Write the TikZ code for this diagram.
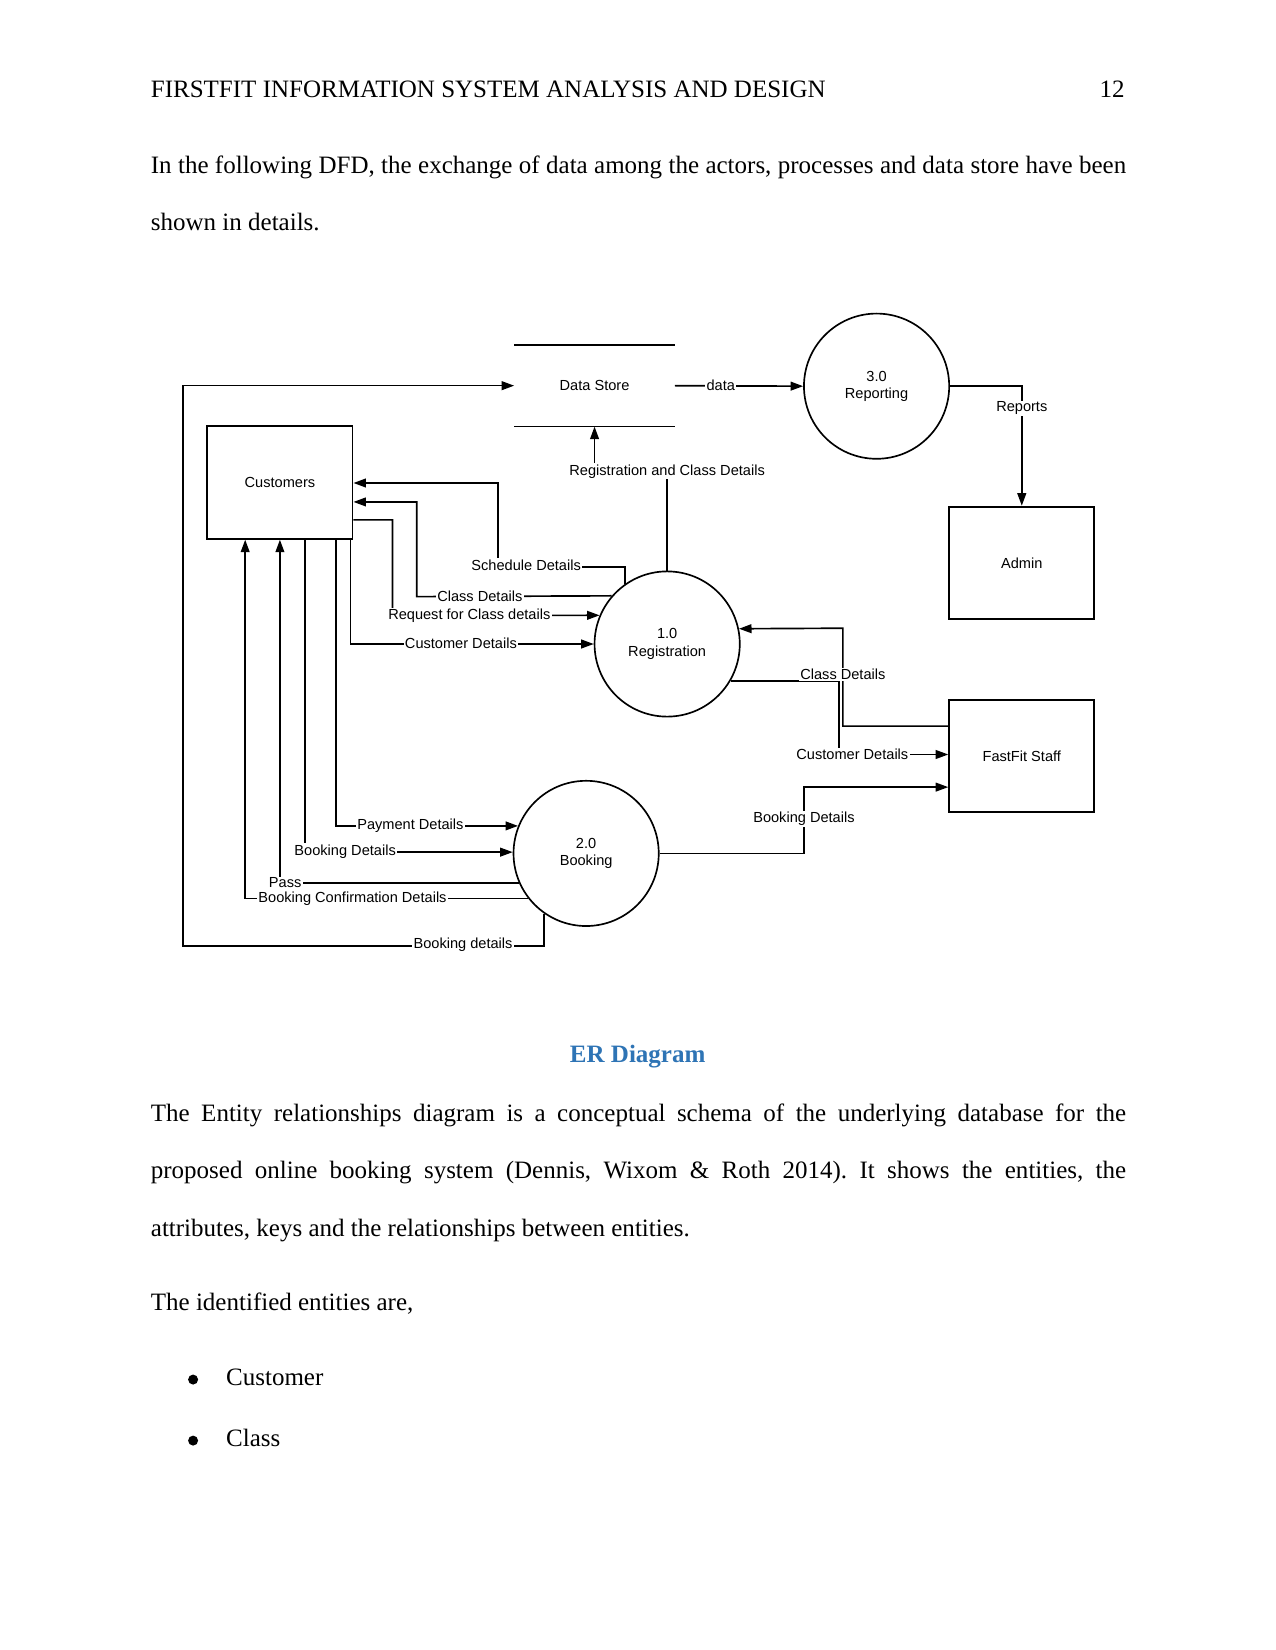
\documentclass[tikz,border=0pt]{standalone}
\usepackage{fontspec}
\setmainfont{Liberation Serif}
\newfontfamily\diagfont{Liberation Sans}
\usetikzlibrary{arrows.meta}
\definecolor{headblue}{RGB}{46,116,181}
\def\px{0.50495pt}
\frenchspacing
\tikzset{
  body/.style={font=\fontsize{12}{14}\selectfont, inner sep=0pt},
  bulletdot/.style={circle, fill=black, inner sep=0pt, minimum size=9.5*\px},
  entity/.style={draw, line width=0.9pt, rectangle, minimum width=138*\px, minimum height=107*\px, inner sep=0pt, font=\diagfont\fontsize{7}{8.4}\selectfont},
  process/.style={draw, line width=0.8pt, circle, minimum size=138*\px, inner sep=0pt, align=center, font=\diagfont\fontsize{7}{8.4}\selectfont},
  store/.style={rectangle, minimum width=152*\px, minimum height=77*\px, inner sep=0pt, font=\diagfont\fontsize{7}{8.4}\selectfont},
  flowlbl/.style={fill=white, inner sep=0.6pt, font=\diagfont\fontsize{7}{8.4}\selectfont},
  flow/.style={line width=0.8pt, -{Triangle[length=6pt,width=4.2pt]}},
  plain/.style={line width=0.8pt}
}
\begin{document}
\begin{tikzpicture}[x=0.50495pt, y=-0.50495pt]
\useasboundingbox[fill=white] (0,0) rectangle (1212,1568);

% ---------- page text ----------
\node[body, anchor=base west] (hdr) at (143,93) {FIRSTFIT INFORMATION SYSTEM ANALYSIS AND DESIGN};
\node[body, anchor=base east] (pg) at (1069,93) {12};
\node[body, anchor=base west] (p1a) at (143,165) {\makebox[468pt][s]{In the following DFD, the exchange of data among the actors, processes and data store have been}};
\node[body, anchor=base west] (p1b) at (143,219) {shown in details.};

\node[body, anchor=base, font=\fontsize{12}{14}\selectfont\bfseries, text=headblue] (erh) at (606,1010) {ER Diagram};
\node[body, anchor=base west] (p2a) at (143,1066) {\makebox[468pt][s]{The Entity relationships diagram is a conceptual schema of the underlying database for the}};
\node[body, anchor=base west] (p2b) at (143,1120) {\makebox[468pt][s]{proposed online booking system (Dennis, Wixom \& Roth 2014). It shows the entities, the}};
\node[body, anchor=base west] (p2c) at (143,1175) {attributes, keys and the relationships between entities.};
\node[body, anchor=base west] (p3a) at (143,1245) {The identified entities are,};
\node[bulletdot] (b1) at (183.5,1311) {};
\node[body, anchor=base west] (i1) at (214.5,1317) {Customer};
\node[bulletdot] (b2) at (183.5,1369) {};
\node[body, anchor=base west] (i2) at (214.5,1375) {Class};

% ---------- DFD nodes ----------
\node[store] (ds) at (565,366.5) {Data Store};
\draw[line width=1pt] (ds.north west) -- (ds.north east);
\draw[line width=0.6pt] (ds.south west) -- (ds.south east);
\node[process] (p3) at (833,367) {3.0\\Reporting};
\node[entity] (admin) at (971,535) {Admin};
\node[entity] (cust) at (266,458.5) {Customers};
\node[process] (p1) at (634,612) {1.0\\Registration};
\node[entity] (staff) at (971,718.5) {FastFit Staff};
\node[process] (p2) at (557,811) {2.0\\Booking};

% ---------- flows ----------
\draw[flow] (ds.east) -- (p3.west);
\node[flowlbl] (ldata) at (685,366) {data};
\draw[flow] (p3.east) -- (971,367) -- (admin.north);
\node[flowlbl] (lrep) at (971,388) {Reports};
\draw[flow] (p1.north) -- (634,448) -| (ds.south);
\node[flowlbl] (lrcd) at (634,448) {Registration and Class Details};
\draw[flow] (p1.125.4) |- (473,539) |- (cust.east |- 0,459);
\node[flowlbl] (lsch) at (500,537) {Schedule Details};
\draw[flow] (p1.139.3) -- (396,567) |- (cust.east |- 0,477);
\node[flowlbl] (lcls) at (456,567) {Class Details};
\draw[flow] (cust.east |- 0,494) -| (373,585) -- (p1.157);
\node[flowlbl] (lreq) at (446,585) {Request for Class details};
\draw[flow] (cust.south -| 333,0) |- (p1.180.8);
\node[flowlbl] (lcd) at (438,611) {Customer Details};
\draw[flow] (staff.west |- 0,690) -| (801,597) -- (p1.12.6);
\draw[flow] (p1.-30.5) -| (797,717) -- (staff.west |- 0,717);
\node[flowlbl] (lcls2) at (801,641) {Class Details};
\node[flowlbl] (lcd2) at (810,717) {Customer Details};
\draw[flow] (p2.east) -| (764,748) -- (staff.west |- 0,748);
\node[flowlbl] (lbd2) at (764,778) {Booking Details};
\draw[flow] (cust.south -| 319,0) |- (p2.158.8);
\node[flowlbl] (lpay) at (390,785) {Payment Details};
\draw[flow] (cust.south -| 290,0) |- (p2.179.2);
\node[flowlbl] (lbd) at (328,809) {Booking Details};
\draw[flow] (p2.204.9) -| (cust.south -| 266,0);
\node[flowlbl] (lpass) at (271,839) {Pass};
\draw[flow] (p2.218.5) -| (cust.south -| 233,0);
\node[flowlbl] (lbcd) at (335,854) {Booking Confirmation Details};
\draw[flow] (p2.235.6) |- (174,899) |- (ds.west);
\node[flowlbl] (lbd3) at (440,898) {Booking details};
\end{tikzpicture}
\end{document}
